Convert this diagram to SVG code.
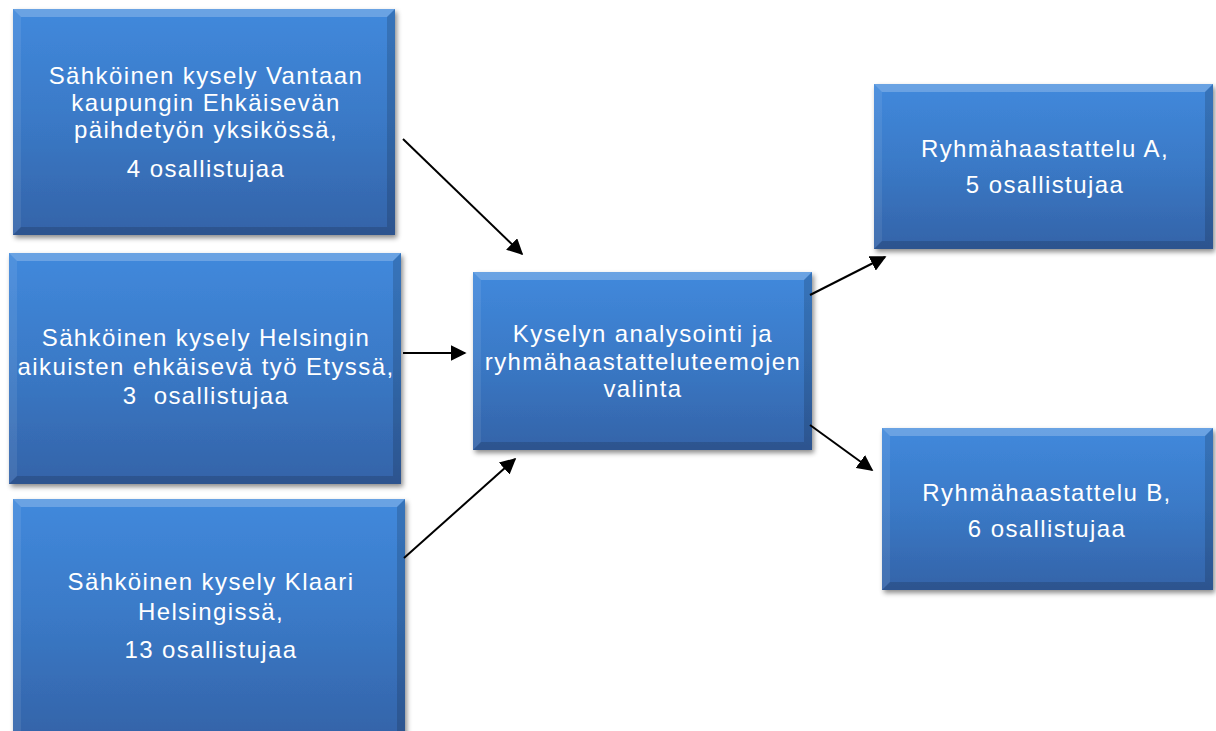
<svg xmlns="http://www.w3.org/2000/svg" width="1216" height="731" viewBox="0 0 1216 731">
<defs>
<linearGradient id="g" x1="0" y1="0" x2="0" y2="1">
<stop offset="0" stop-color="#4189dc"/>
<stop offset="0.5" stop-color="#3a79c6"/>
<stop offset="1" stop-color="#3463a8"/>
</linearGradient>
<filter id="sh" x="-5%" y="-5%" width="112%" height="115%">
<feDropShadow dx="2" dy="3" stdDeviation="2.5" flood-color="#000" flood-opacity="0.45"/>
</filter>
<marker id="ah2" viewBox="0 0 10 10" refX="9" refY="5" markerWidth="16" markerHeight="16" markerUnits="userSpaceOnUse" orient="auto">
<path d="M0,0 L10,5 L0,10 Z" fill="#000"/>
</marker>
</defs>
<style>
.box{fill:url(#g);filter:url(#sh)}
.hl{fill:#ffffff;opacity:0.22}
.dk{fill:#000000;opacity:0.15}
.lt{fill:#ffffff;opacity:0.08}
.t{font-family:"Liberation Sans",Arial,sans-serif;font-size:24px;letter-spacing:1.4px;fill:#ffffff;text-anchor:middle}
.c{stroke:#000;stroke-width:2;fill:none;marker-end:url(#ah2)}
</style>
<rect width="1216" height="731" fill="#ffffff"/>

<g id="n1">
<rect class="box" x="13" y="9" width="382" height="226"/>
<polygon class="hl" points="13,9 395,9 387,17 21,17"/>
<polygon class="lt" points="13,9 21,17 21,227 13,235"/>
<polygon class="dk" points="395,9 395,235 387,227 387,17"/>
<polygon class="dk" points="13,235 395,235 387,227 21,227"/>
<text class="t" x="206" y="84">Sähköinen kysely Vantaan</text>
<text class="t" x="206" y="111">kaupungin Ehkäisevän</text>
<text class="t" x="206" y="138">päihdetyön yksikössä,</text>
<text class="t" x="206" y="177">4 osallistujaa</text>
</g>

<g id="n2">
<rect class="box" x="9" y="253" width="392" height="231"/>
<polygon class="hl" points="9,253 401,253 393,261 17,261"/>
<polygon class="lt" points="9,253 17,261 17,476 9,484"/>
<polygon class="dk" points="401,253 401,484 393,476 393,261"/>
<polygon class="dk" points="9,484 401,484 393,476 17,476"/>
<text class="t" x="206" y="346">Sähköinen kysely Helsingin</text>
<text class="t" x="206" y="375">aikuisten ehkäisevä työ Etyssä,</text>
<text class="t" x="206" y="404" xml:space="preserve">3  osallistujaa</text>
</g>

<g id="n3">
<rect class="box" x="13" y="499" width="392" height="240"/>
<polygon class="hl" points="13,499 405,499 397,507 21,507"/>
<polygon class="lt" points="13,499 21,507 21,739 13,739"/>
<polygon class="dk" points="405,499 405,739 397,739 397,507"/>
<text class="t" x="211" y="590">Sähköinen kysely Klaari</text>
<text class="t" x="211" y="620">Helsingissä,</text>
<text class="t" x="211" y="658">13 osallistujaa</text>
</g>

<g id="n4">
<rect class="box" x="473" y="272" width="339" height="178"/>
<polygon class="hl" points="473,272 812,272 804,280 481,280"/>
<polygon class="lt" points="473,272 481,280 481,442 473,450"/>
<polygon class="dk" points="812,272 812,450 804,442 804,280"/>
<polygon class="dk" points="473,450 812,450 804,442 481,442"/>
<text class="t" x="643" y="342">Kyselyn analysointi ja</text>
<text class="t" x="643" y="370">ryhmähaastatteluteemojen</text>
<text class="t" x="643" y="397">valinta</text>
</g>

<g id="n5">
<rect class="box" x="874" y="84" width="339" height="165"/>
<polygon class="hl" points="874,84 1213,84 1205,92 882,92"/>
<polygon class="lt" points="874,84 882,92 882,241 874,249"/>
<polygon class="dk" points="1213,84 1213,249 1205,241 1205,92"/>
<polygon class="dk" points="874,249 1213,249 1205,241 882,241"/>
<text class="t" x="1045" y="157">Ryhmähaastattelu A,</text>
<text class="t" x="1045" y="193">5 osallistujaa</text>
</g>

<g id="n6">
<rect class="box" x="882" y="428" width="331" height="162"/>
<polygon class="hl" points="882,428 1213,428 1205,436 890,436"/>
<polygon class="lt" points="882,428 890,436 890,582 882,590"/>
<polygon class="dk" points="1213,428 1213,590 1205,582 1205,436"/>
<polygon class="dk" points="882,590 1213,590 1205,582 890,582"/>
<text class="t" x="1047" y="501">Ryhmähaastattelu B,</text>
<text class="t" x="1047" y="537">6 osallistujaa</text>
</g>

<g id="connectors">
<line class="c" x1="403" y1="139" x2="522" y2="254"/>
<line class="c" x1="403" y1="353" x2="465" y2="353"/>
<line class="c" x1="404" y1="558" x2="515" y2="459"/>
<line class="c" x1="810" y1="295" x2="885" y2="257"/>
<line class="c" x1="810" y1="425" x2="872" y2="470"/>
</g>
</svg>
